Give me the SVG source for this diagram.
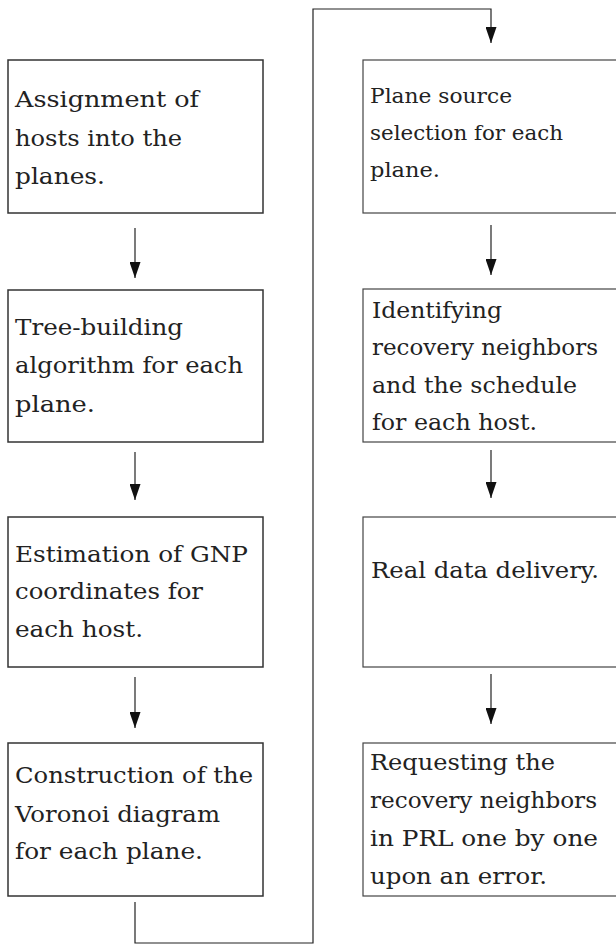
<svg xmlns="http://www.w3.org/2000/svg" width="616" height="946" viewBox="0 0 616 946">
  <defs>
    <marker id="arrow" viewBox="0 0 16 11" refX="16" refY="5.5" markerWidth="16" markerHeight="11" markerUnits="userSpaceOnUse" orient="auto">
      <path d="M0,0 L16,5.5 L0,11 z" fill="#111"/>
    </marker>
  </defs>
  <style>
    .box { fill: #fff; stroke: #333; stroke-width: 1.5; }
    .boxr { fill: #fff; stroke: #444; stroke-width: 1.2; }
    .lbl { font-family: "DejaVu Serif", "Liberation Serif", serif; font-size: 23px; fill: #222; }
    .sm { font-size: 20px; }
    .edge { fill: none; stroke: #222; stroke-width: 1.2; }
  </style>
  <rect width="616" height="946" fill="#fff"/>

  <!-- left column -->
  <g id="n1">
    <rect class="box" x="8" y="60" width="255" height="153"/>
    <text class="lbl" x="15" y="107" textLength="184" lengthAdjust="spacingAndGlyphs">Assignment of</text>
    <text class="lbl" x="15" y="146" textLength="167" lengthAdjust="spacingAndGlyphs">hosts into the</text>
    <text class="lbl" x="15" y="184" textLength="90" lengthAdjust="spacingAndGlyphs">planes.</text>
  </g>
  <g id="n2">
    <rect class="box" x="8" y="290" width="255" height="152"/>
    <text class="lbl" x="15" y="335" textLength="168" lengthAdjust="spacingAndGlyphs">Tree-building</text>
    <text class="lbl" x="15" y="373" textLength="228" lengthAdjust="spacingAndGlyphs">algorithm for each</text>
    <text class="lbl" x="15" y="412" textLength="80" lengthAdjust="spacingAndGlyphs">plane.</text>
  </g>
  <g id="n3">
    <rect class="box" x="8" y="517" width="255" height="150"/>
    <text class="lbl" x="15" y="562" textLength="233" lengthAdjust="spacingAndGlyphs">Estimation of GNP</text>
    <text class="lbl" x="15" y="599" textLength="188" lengthAdjust="spacingAndGlyphs">coordinates for</text>
    <text class="lbl" x="15" y="637" textLength="128" lengthAdjust="spacingAndGlyphs">each host.</text>
  </g>
  <g id="n4">
    <rect class="box" x="8" y="743" width="255" height="153"/>
    <text class="lbl" x="15" y="783" textLength="238" lengthAdjust="spacingAndGlyphs">Construction of the</text>
    <text class="lbl" x="15" y="822" textLength="205" lengthAdjust="spacingAndGlyphs">Voronoi diagram</text>
    <text class="lbl" x="15" y="859" textLength="188" lengthAdjust="spacingAndGlyphs">for each plane.</text>
  </g>

  <!-- right column (boxes run past the right edge) -->
  <g id="n5">
    <rect class="boxr" x="363" y="60" width="270" height="153"/>
    <text class="lbl sm" x="370" y="103" textLength="142" lengthAdjust="spacingAndGlyphs">Plane source</text>
    <text class="lbl sm" x="370" y="140" textLength="193" lengthAdjust="spacingAndGlyphs">selection for each</text>
    <text class="lbl sm" x="370" y="177" textLength="70" lengthAdjust="spacingAndGlyphs">plane.</text>
  </g>
  <g id="n6">
    <rect class="boxr" x="363" y="289" width="270" height="153"/>
    <text class="lbl" x="372" y="318" textLength="130" lengthAdjust="spacingAndGlyphs">Identifying</text>
    <text class="lbl" x="372" y="355" textLength="226" lengthAdjust="spacingAndGlyphs">recovery neighbors</text>
    <text class="lbl" x="372" y="393" textLength="205" lengthAdjust="spacingAndGlyphs">and the schedule</text>
    <text class="lbl" x="372" y="430" textLength="165" lengthAdjust="spacingAndGlyphs">for each host.</text>
  </g>
  <g id="n7">
    <rect class="boxr" x="363" y="517" width="270" height="150"/>
    <text class="lbl" x="371" y="578" textLength="228" lengthAdjust="spacingAndGlyphs">Real data delivery.</text>
  </g>
  <g id="n8">
    <rect class="boxr" x="363" y="743" width="270" height="153"/>
    <text class="lbl" x="370" y="770" textLength="185" lengthAdjust="spacingAndGlyphs">Requesting the</text>
    <text class="lbl" x="370" y="808" textLength="227" lengthAdjust="spacingAndGlyphs">recovery neighbors</text>
    <text class="lbl" x="370" y="846" textLength="228" lengthAdjust="spacingAndGlyphs">in PRL one by one</text>
    <text class="lbl" x="370" y="884" textLength="177" lengthAdjust="spacingAndGlyphs">upon an error.</text>
  </g>

  <!-- connectors -->
  <g id="edges">
    <line class="edge" x1="135" y1="228" x2="135" y2="278" marker-end="url(#arrow)"/>
    <line class="edge" x1="135" y1="452" x2="135" y2="500" marker-end="url(#arrow)"/>
    <line class="edge" x1="135" y1="677" x2="135" y2="728" marker-end="url(#arrow)"/>
    <polyline class="edge" points="135,902 135,943 313,943 313,9 491,9 491,43" marker-end="url(#arrow)"/>
    <line class="edge" x1="491" y1="225" x2="491" y2="275" marker-end="url(#arrow)"/>
    <line class="edge" x1="491" y1="450" x2="491" y2="498" marker-end="url(#arrow)"/>
    <line class="edge" x1="491" y1="674" x2="491" y2="724" marker-end="url(#arrow)"/>
  </g>
</svg>
